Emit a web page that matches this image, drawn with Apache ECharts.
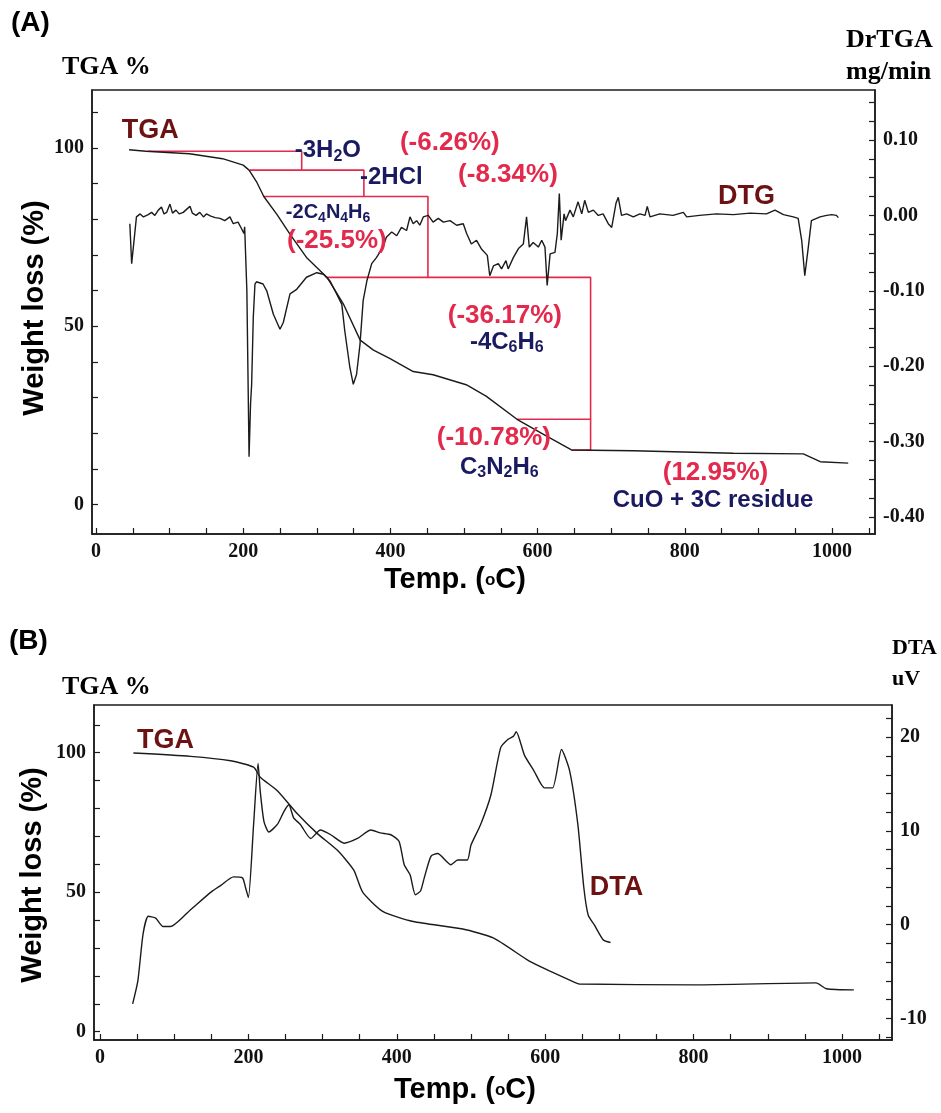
<!DOCTYPE html>
<html>
<head>
<meta charset="utf-8">
<script src="https://cdn.jsdelivr.net/npm/echarts@6/dist/echarts.min.js"></script>
<style>
  html, body { margin: 0; padding: 0; background: #fff; }
  #chart { width: 941px; height: 1113px; }
</style>
</head>
<body>
<div id="chart"></div>
<script>
// ---- Panel A : TGA (%) + DTG (mg/min) vs temperature ----
const tgaA = [
  [45, 99.5], [68, 99.1], [127, 98.4], [172, 97], [200, 95.2], [208, 93.8], [218, 90.6],
  [228, 86.4], [246, 81.3], [264, 75.7], [286, 69.3], [314, 63.7], [336, 56.3], [359, 46.1],
  [377, 43.3], [399, 41], [431, 37.3], [458, 36.4], [503, 33.6], [530, 30.4], [572, 23.9],
  [608, 19.7], [646, 15.3], [730, 15.1], [866, 14.4], [961, 14.2], [984, 12], [1022, 11.6]
];

const dtgA = [
  [46, -0.011], [48.5, -0.064], [55, -0.002], [60, 0.002], [64.5, -0.002], [71, 0.001],
  [75.6, 0.004], [80, 0], [84.7, 0.007], [89, 0.011], [92.4, 0.002], [96, 0.004],
  [100.5, 0.015], [104, 0.003], [108.7, 0.007], [113, 0.002], [118.6, 0.004], [123, 0.008],
  [127.7, 0.012], [131, 0.003], [136, 0], [141, 0.004], [146, -0.002], [150, 0.002],
  [156, -0.001], [162, -0.003], [168.5, -0.004], [175, -0.007], [182, -0.002], [186.5, -0.011],
  [193, -0.009], [198, -0.018], [201, -0.024], [202, -0.015], [205, -0.10], [208, -0.32],
  [210, -0.25], [211.5, -0.224], [213.7, -0.136], [216, -0.091], [218, -0.088], [227, -0.091],
  [232, -0.1], [241, -0.131], [250, -0.151], [254.5, -0.142], [263.6, -0.104], [272.7, -0.098],
  [286, -0.082], [300, -0.076], [309, -0.078], [318, -0.087], [327, -0.104], [334, -0.118],
  [338, -0.153], [345, -0.202], [349.6, -0.224], [354, -0.211], [358.7, -0.171], [363, -0.113],
  [368, -0.087], [374.6, -0.064], [381, -0.056], [390, -0.042], [394.5, -0.029], [401.8, -0.022],
  [408.6, -0.027], [415, -0.016], [422, -0.02], [426.6, -0.002], [431, -0.011], [435.6, -0.007],
  [440, -0.013], [444.7, -0.002], [451.5, 0], [458, -0.009], [465, -0.004], [472, -0.009],
  [481, -0.007], [490, -0.013], [499, -0.011], [503.6, -0.024], [510, -0.038], [517, -0.033],
  [524, -0.045], [531.7, -0.053], [535, -0.08], [540, -0.067], [546.6, -0.064], [551, -0.071],
  [557, -0.06], [560, -0.071], [567, -0.056], [574, -0.044], [580.6, -0.038], [585, -0.002],
  [588.7, -0.042], [594, -0.036], [601, -0.042], [605.6, -0.033], [610, -0.042], [613, -0.093],
  [617, -0.051], [623.6, -0.049], [626.8, -0.024], [629.5, 0.029], [632, -0.033], [636, 0.002],
  [638, -0.007], [644, 0.007], [648.5, -0.002], [655, 0.018], [660, 0.002], [664, 0.02],
  [669, 0.004], [675.7, 0.007], [682.5, 0], [689, 0.002], [696, -0.011], [700.7, -0.016],
  [706.5, 0.016], [709.6, 0.024], [714, 0], [721, 0.002], [730, -0.002], [739, 0.002],
  [746, 0], [749, 0.012], [752.7, -0.002], [766, 0.002], [784, 0], [798, 0.004],
  [802.6, -0.002], [820, 0], [843, 0.002], [866, 0.001], [888.6, 0.003], [911, 0.002],
  [922.5, 0.007], [934, 0.001], [947.4, -0.002], [954, -0.004], [958.8, -0.033], [963, -0.08],
  [967.8, -0.042], [972, -0.007], [983.7, -0.002], [992.8, 0], [999.6, 0.001], [1006, 0],
  [1008.6, -0.003]
];

// red step brackets (temperature, weight %)
const stepsA = [
  [[69, 99.1], [279.5, 99.1], [279.5, 93.8]],
  [[209, 93.8], [364, 93.8], [364, 86.4]],
  [[228, 86.4], [451, 86.4], [451, 63.7]],
  [[314, 63.7], [672, 63.7], [672, 15.3], [646, 15.3]],
  [[571.6, 23.9], [672, 23.9]]
];

// annotations: [temp, weight %, text]
const notesA = [
  [35, 105, '{m|TGA}'],
  [270, 99.4, '{n|-3H}{ns|2}{n|O}'],
  [413, 101.4, '{r|(-6.26%)}'],
  [358.7, 91.9, '{n|-2HCl}'],
  [492, 92.4, '{r|(-8.34%)}'],
  [258, 81.8, '{s|-2C}{ss|4}{s|N}{ss|4}{s|H}{ss|6}'],
  [259.5, 73.9, '{r|(-25.5%)}'],
  [845, 86.5, '{m|DTG}'],
  [478, 52.9, '{r|(-36.17%)}'],
  [508, 45.6, '{n|-4C}{ns|6}{n|H}{ns|6}'],
  [463, 18.7, '{r|(-10.78%)}'],
  [494.6, 10.5, '{n|C}{ns|3}{n|N}{ns|2}{n|H}{ns|6}'],
  [770, 8.8, '{r|(12.95%)}'],
  [702, 1.3, '{n|CuO + 3C residue}']
];

// ---- Panel B : TGA (%) + DTA (uV) vs temperature ----
const tgaB = [
  [45, 99.9], [122, 98.7], [176, 97.1], [207, 94.8], [216, 91.2], [239, 86.4], [266, 78.1],
  [293, 71], [320, 65], [342, 57.9], [354, 50], [381, 43.1], [422, 39.5], [489, 36.8],
  [530, 33.6], [578, 25.4], [605, 21.9], [639, 17.8], [646, 17.1], [802, 16.8], [965, 17.5],
  [979, 15.4], [1016, 15]
];

const dtaB = [
  [44, -8.45], [51, -6], [58, -1], [65, 0.9], [75, 0.7], [85, -0.2], [95, -0.2], [122, 1.6],
  [150, 3.5], [163, 4.2], [180, 5.1], [192, 5], [196, 4], [200, 2.9], [207, 10.7], [213, 17.2],
  [216, 14.2], [221, 11], [227.5, 9.9], [239, 10.7], [248, 12.1], [254.5, 12.8], [261, 11.4],
  [270, 10.7], [284, 9.2], [297, 10.1], [311, 9.6], [329, 8.7], [347, 9.2], [365, 10.1],
  [378, 9.8], [392, 9.6], [403, 8.9], [410, 6.4], [418, 5.3], [425, 3.2], [432, 3.6],
  [437, 5], [446, 7.3], [455, 7.6], [473, 6.4], [482, 6.9], [495, 6.9], [500, 8.5],
  [513, 10.7], [527, 13.9], [540, 18.9], [550, 19.8], [557, 20.1], [561, 20.6], [572, 18.1],
  [585, 16.4], [599, 14.6], [610, 14.6], [622, 18.7], [633, 16.4], [644, 10.7], [652, 4],
  [658, 1], [666, 0], [678, -1.6], [688, -1.9]
];

const notesB = [
  [50, 104.2, '{m|TGA}'],
  [660, 51.5, '{m|DTA}']
];

// tick values and tick labels
const tempTicks = [0, 50, 100, 150, 200, 250, 300, 350, 400, 450, 500, 550, 600, 650, 700, 750, 800, 850, 900, 950, 1000, 1050];
const tempLabels = [0, 200, 400, 600, 800, 1000];
const wtTicks = [0, 10, 20, 30, 40, 50, 60, 70, 80, 90, 100, 110];
const wtLabels = [0, 50, 100];
const dtgTicks = [-0.4, -0.375, -0.35, -0.325, -0.3, -0.275, -0.25, -0.225, -0.2, -0.175, -0.15, -0.125, -0.1, -0.075, -0.05, -0.025, 0, 0.025, 0.05, 0.075, 0.1, 0.125, 0.15];
const dtgLabels = [-0.4, -0.3, -0.2, -0.1, 0, 0.1];
const dtaTicks = [-12, -10, -8, -6, -4, -2, 0, 2, 4, 6, 8, 10, 12, 14, 16, 18, 20, 22];
const dtaLabels = [-10, 0, 10, 20];

const SANS = 'Liberation Sans, Arial, sans-serif';
const SERIF = 'Liberation Serif, Times New Roman, serif';
const INK = '#1b1b1b';
const RED = '#e3294c';
const NAVY = '#1a1a60';
const MAROON = '#6c1212';

const chart = echarts.init(document.getElementById('chart'), null, { renderer: 'canvas' });

function tickAxis(ticks, labels, fmt, extra) {
  return Object.assign({
    type: 'value',
    axisLine: { show: true, onZero: false, lineStyle: { color: INK, width: 1.5 } },
    axisTick: { show: true, inside: true, length: 6, customValues: ticks, lineStyle: { color: INK, width: 1.2 } },
    axisLabel: {
      customValues: labels, color: '#111', fontFamily: SERIF, fontWeight: 'bold', fontSize: 20,
      formatter: fmt
    },
    splitLine: { show: false }
  }, extra);
}

const richStyles = {
  m: { color: MAROON, fontFamily: SANS, fontWeight: 'bold', fontSize: 27 },
  r: { color: RED, fontFamily: SANS, fontWeight: 'bold', fontSize: 26 },
  n: { color: NAVY, fontFamily: SANS, fontWeight: 'bold', fontSize: 24, lineHeight: 28 },
  ns: { color: NAVY, fontFamily: SANS, fontWeight: 'bold', fontSize: 16, lineHeight: 18, verticalAlign: 'bottom' },
  s: { color: NAVY, fontFamily: SANS, fontWeight: 'bold', fontSize: 20, lineHeight: 24 },
  ss: { color: NAVY, fontFamily: SANS, fontWeight: 'bold', fontSize: 14, lineHeight: 16, verticalAlign: 'bottom' }
};

function noteSeries(notes, xi, yi) {
  return {
    type: 'scatter', xAxisIndex: xi, yAxisIndex: yi, symbolSize: 0, silent: true, z: 5,
    itemStyle: { opacity: 1 },
    data: notes.map(n => ({
      value: [n[0], n[1]],
      label: { show: true, position: 'right', distance: 0, opacity: 1, formatter: n[2], rich: richStyles }
    }))
  };
}

const stepSeries = stepsA.map(seg => ({
  type: 'line', xAxisIndex: 0, yAxisIndex: 0, data: seg, showSymbol: false, silent: true,
  lineStyle: { color: RED, width: 1.6 }, z: 3
}));

const option = {
  backgroundColor: '#fff',
  animation: false,
  grid: [
    { left: 92, top: 90, width: 783, height: 444, show: true, borderColor: INK, borderWidth: 1.5 },
    { left: 94, top: 705, width: 798, height: 335, show: true, borderColor: INK, borderWidth: 1.5 }
  ],
  xAxis: [
    tickAxis(tempTicks, tempLabels, v => String(v), { gridIndex: 0, min: -5.4, max: 1058.4, position: 'bottom' }),
    tickAxis(tempTicks, tempLabels, v => String(v), { gridIndex: 1, min: -8.1, max: 1067.4, position: 'bottom' })
  ],
  yAxis: [
    tickAxis(wtTicks, wtLabels, v => String(v), { gridIndex: 0, min: -8.27, max: 116.27, position: 'left' }),
    tickAxis(dtgTicks, dtgLabels, v => v.toFixed(2), { gridIndex: 0, min: -0.4225, max: 0.1663, position: 'right' }),
    tickAxis(wtTicks, wtLabels, v => String(v), { gridIndex: 1, min: -2.97, max: 117.1, position: 'left' }),
    tickAxis(dtaTicks, dtaLabels, v => String(v), { gridIndex: 1, min: -12.31, max: 23.45, position: 'right' })
  ],
  series: [
    { type: 'line', name: 'TGA', xAxisIndex: 0, yAxisIndex: 0, data: tgaA, showSymbol: false,
      lineStyle: { color: INK, width: 1.4 }, z: 4 },
    { type: 'line', name: 'DTG', xAxisIndex: 0, yAxisIndex: 1, data: dtgA, showSymbol: false,
      lineStyle: { color: INK, width: 1.4 }, z: 4 },
    ...stepSeries,
    noteSeries(notesA, 0, 0),
    { type: 'line', name: 'TGA B', xAxisIndex: 1, yAxisIndex: 2, data: tgaB, showSymbol: false, smooth: 0.2,
      lineStyle: { color: INK, width: 1.4 }, z: 4 },
    { type: 'line', name: 'DTA', xAxisIndex: 1, yAxisIndex: 3, data: dtaB, showSymbol: false, smooth: 0.2,
      lineStyle: { color: INK, width: 1.4 }, z: 4 },
    noteSeries(notesB, 1, 2)
  ],
  graphic: [
    { type: 'text', left: 11, top: 9, style: { text: '(A)', font: 'bold 28px ' + SANS, fill: '#000' } },
    { type: 'text', left: 9, top: 627, style: { text: '(B)', font: 'bold 28px ' + SANS, fill: '#000' } },
    { type: 'text', left: 62, top: 54, style: { text: 'TGA %', font: 'bold 26px ' + SERIF, fill: '#000' } },
    { type: 'text', left: 62, top: 674, style: { text: 'TGA %', font: 'bold 26px ' + SERIF, fill: '#000' } },
    { type: 'text', left: 846, top: 27, style: { text: 'DrTGA', font: 'bold 26px ' + SERIF, fill: '#000' } },
    { type: 'text', left: 846, top: 59, style: { text: 'mg/min', font: 'bold 26px ' + SERIF, fill: '#000' } },
    { type: 'text', left: 892, top: 637, style: { text: 'DTA', font: 'bold 22px ' + SERIF, fill: '#000' } },
    { type: 'text', left: 892, top: 668, style: { text: 'uV', font: 'bold 22px ' + SERIF, fill: '#000' } },
    { type: 'text', x: 35, y: 308, rotation: Math.PI / 2,
      style: { text: 'Weight loss (%)', font: 'bold 29px ' + SANS, fill: '#000', align: 'center', verticalAlign: 'middle' } },
    { type: 'text', x: 33, y: 875, rotation: Math.PI / 2,
      style: { text: 'Weight loss (%)', font: 'bold 29px ' + SANS, fill: '#000', align: 'center', verticalAlign: 'middle' } },
    { type: 'text', x: 455, y: 580,
      style: { text: '{t|Temp. (}{o|o}{t|C)}', align: 'center', verticalAlign: 'middle',
        rich: { t: { font: 'bold 29px ' + SANS, fill: '#000', lineHeight: 32 },
                o: { font: 'bold 17px ' + SANS, fill: '#000', lineHeight: 32, verticalAlign: 'middle' } } } },
    { type: 'text', x: 465, y: 1090,
      style: { text: '{t|Temp. (}{o|o}{t|C)}', align: 'center', verticalAlign: 'middle',
        rich: { t: { font: 'bold 29px ' + SANS, fill: '#000', lineHeight: 32 },
                o: { font: 'bold 17px ' + SANS, fill: '#000', lineHeight: 32, verticalAlign: 'middle' } } } }
  ]
};

chart.setOption(option);
</script>
</body>
</html>
